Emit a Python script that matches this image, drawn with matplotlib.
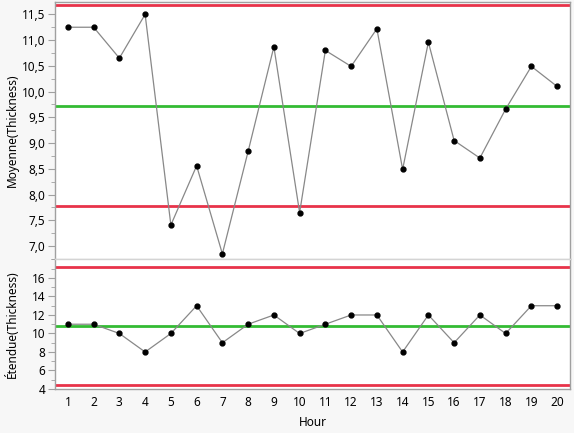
import matplotlib.pyplot as plt
from matplotlib.ticker import MultipleLocator, FuncFormatter

hours = list(range(1, 21))
means = [11.25, 11.25, 10.65, 11.5, 7.41, 8.56, 6.85, 8.84, 10.87, 7.65,
         10.8, 10.49, 11.22, 8.49, 10.96, 9.05, 8.71, 9.66, 10.49, 10.1]
ranges = [11, 11, 10, 8, 10, 13, 9, 11, 12, 10, 11, 12, 12, 8, 12, 9, 12, 10, 13, 13]

# control limits
mean_ucl, mean_cl, mean_lcl = 11.69, 9.73, 7.78
range_ucl, range_cl, range_lcl = 17.15, 10.81, 4.46

RED = '#e8334a'
GREEN = '#33bb33'
FRAME = '#a0a0a0'
BG = '#f7f7f7'

plt.rcParams['font.family'] = ['Noto Sans', 'DejaVu Sans']
plt.rcParams['font.size'] = 8.5

fig = plt.figure(figsize=(5.74, 4.33), dpi=100, facecolor=BG)
ax1 = fig.add_axes([55 / 574, 1 - 259 / 433, 515 / 574, 257 / 433])
ax2 = fig.add_axes([55 / 574, 1 - 389 / 433, 515 / 574, 130 / 433])


def comma(v, pos):
    return ('%.1f' % v).replace('.', ',')


def style(ax):
    ax.set_facecolor('white')
    for s in ax.spines.values():
        s.set_color(FRAME)
        s.set_linewidth(1)
    ax.tick_params(axis='y', which='major', length=5, color=FRAME, pad=2)
    ax.tick_params(axis='y', which='minor', length=3, color=FRAME)
    ax.set_xlim(0.5, 20.5)


style(ax1)
style(ax2)

ax1.axhline(mean_ucl, color=RED, lw=2)
ax1.axhline(mean_cl, color=GREEN, lw=2)
ax1.axhline(mean_lcl, color=RED, lw=2)
ax1.plot(hours, means, color='#888888', lw=0.9, marker='o', ms=3.5,
         mfc='black', mec='black', clip_on=False)
ax1.set_ylim(6.75, 11.74)
ax1.yaxis.set_minor_locator(MultipleLocator(0.25))
ax1.yaxis.set_major_formatter(FuncFormatter(comma))
ax1.set_yticks([7.0 + 0.5 * i for i in range(10)])
ax1.set_xticks([])
ax1.spines['bottom'].set_color('#d4d4d4')
ax1.set_ylabel('Moyenne(Thickness)')
ax1.yaxis.set_label_coords(-0.07, 0.5)

ax2.axhline(range_ucl, color=RED, lw=2)
ax2.axhline(range_cl, color=GREEN, lw=2)
ax2.axhline(range_lcl, color=RED, lw=2)
ax2.plot(hours, ranges, color='#888888', lw=0.9, marker='o', ms=3.5,
         mfc='black', mec='black', clip_on=False)
ax2.set_ylim(4, 18.05)
ax2.set_yticks([4, 6, 8, 10, 12, 14, 16])
ax2.yaxis.set_minor_locator(MultipleLocator(1))
ax2.spines['top'].set_color('#d4d4d4')
ax2.set_xticks(hours)
ax2.tick_params(axis='x', length=0, pad=5)
ax2.set_ylabel('Étendue(Thickness)')
ax2.yaxis.set_label_coords(-0.07, 0.5)
ax2.set_xlabel('Hour', labelpad=5)

fig.savefig('out.png', dpi=100, facecolor=BG)
